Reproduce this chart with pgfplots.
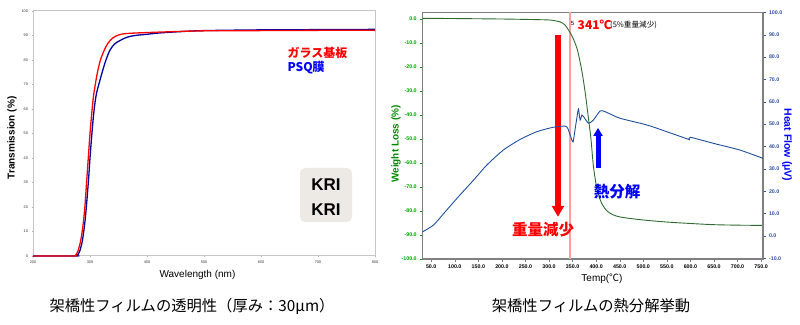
\documentclass[border=0pt]{standalone}
\usepackage{fontspec}
\setmainfont{Liberation Sans}
\newfontfamily\jp{Noto Sans CJK JP}
\usepackage{pgfplots}
\pgfplotsset{compat=1.18}
\usetikzlibrary{arrows.meta}
\definecolor{tgreen}{HTML}{2F6B2F}
\definecolor{tblue}{HTML}{1F4E9A}
\definecolor{lgreen}{HTML}{00A000}
\definecolor{lblue}{HTML}{2F4FA0}
\definecolor{pinkline}{HTML}{FFA0A0}
\definecolor{navy}{HTML}{00009C}
\definecolor{boxgrey}{HTML}{EDEAE6}
\begin{document}
\begin{tikzpicture}[x=1pt,y=1pt]
\path[use as bounding box] (0,0) rectangle (800,324);
% ---------------- left chart ----------------
\begin{axis}[at={(33pt,68pt)}, anchor=south west, scale only axis,
  width=342pt, height=245pt, xmin=200, xmax=800, ymin=0, ymax=100,
  xtick={200,300,...,800}, ytick={0,10,...,100}, clip=false,
  tick pos=left, tick align=outside, major tick length=1.5pt,
  tick style={draw=gray!60},
  axis line style={draw=gray!45, line width=1pt},
  tick label style={font=\fontsize{3.8}{4.5}\selectfont, text=black!80},
  /pgf/number format/assume math mode=true,
  /pgf/number format/1000 sep={}]
\addplot[navy, line width=1.3pt, smooth] coordinates {
(200,0) (274,0) (278,0.3) (282,2) (286,5.5) (289,10) (292,16) (295,24) (298,33) (300,40)
(303,49) (306,57) (309,63) (312,67) (316,70.5) (322,75.5) (328,80) (335,84) (343,86.5)
(353,88) (365,89.3) (379,90) (400,90.5) (420,91) (460,91.6) (500,92) (600,92.3) (700,92.4) (800,92.5)};
\addplot[red, line width=1.3pt, smooth] coordinates {
(200,0) (270,0) (274,0.3) (278,1.5) (282,4.5) (285,8) (288,13) (291,20) (294,30) (297,40)
(300,50) (303,58) (306,65) (310,71) (314,76) (319,80.5) (325,84) (332,87) (340,89)
(350,90.2) (364,90.8) (400,91.2) (450,91.6) (500,91.9) (600,92.0) (700,92.1) (800,92.1)};
\end{axis}
\node[anchor=west, text=red, font=\jp\fontsize{12}{14}\selectfont\bfseries] at (284,271) {ガラス基板};
\node[anchor=west, text=blue, font=\jp\fontsize{12}{14}\selectfont\bfseries] at (284,256) {PSQ膜};
\fill[boxgrey, rounded corners=5pt] (300,102) rectangle (352,156);
\node[font=\fontsize{17}{19}\selectfont\bfseries] at (326,139) {KRI};
\node[font=\fontsize{17}{19}\selectfont\bfseries] at (326,114) {KRI};
\node[rotate=90, font=\fontsize{10}{12}\selectfont\bfseries] at (12,186) {Transmission (\%)};
\node[font=\fontsize{10}{12}\selectfont] at (197.5,49) {Wavelength (nm)};
\node[font=\jp\fontsize{15.3}{17}\selectfont] at (192,18) {架橋性フィルムの透明性（厚み：30μm）};
% ---------------- right chart ----------------
\begin{axis}[at={(422.7pt,65pt)}, anchor=south west, scale only axis,
  width=340.3pt, height=246.7pt, xmin=32, xmax=754, ymin=-100, ymax=2.8,
  xtick={50,100,...,750}, ytick={-100,-90,...,0}, clip=false,
  tick pos=left, tick align=outside, major tick length=2.5pt,
  axis line style={draw=gray, line width=1.2pt},
  x tick style={draw=gray}, y tick style={draw=lgreen},
  tick label style={font=\fontsize{5.3}{6}\selectfont\bfseries},
  yticklabel style={text=lgreen},
  /pgf/number format/assume math mode=true,
  /pgf/number format/.cd, fixed, fixed zerofill, precision=1, 1000 sep={}]
\draw[pinkline, line width=1.5pt] (axis cs:344,-100) -- (axis cs:344,2.8);
\addplot[tgreen, line width=0.9pt, smooth] coordinates {
(32,0.3) (100,0.2) (200,0) (260,-0.2) (300,-0.4) (315,-0.8) (324,-1.2) (334,-2.5) (341,-4.5)
(346,-6) (352,-8.5) (359,-12) (365,-17) (370,-22) (377,-31) (384,-42) (389,-50) (394,-61)
(400,-69) (405,-73) (411,-76.5) (422,-79.8) (435,-81.5) (451,-82.5) (480,-83.3) (508,-83.9)
(550,-84.6) (600,-85.2) (650,-85.7) (700,-85.9) (754,-86)};
\draw[red, line width=6pt, -{Triangle[width=12pt,length=11pt]}] (axis cs:319,-6.7) -- (axis cs:319,-82.4);
\draw[blue, line width=5pt, -{Triangle[width=9pt,length=8pt]}] (axis cs:404,-62) -- (axis cs:404,-45.4);
\end{axis}
\begin{axis}[at={(422.7pt,65pt)}, anchor=south west, scale only axis,
  width=340.3pt, height=246.7pt, xmin=32, xmax=754, ymin=-10.3, ymax=100,
  ytick={-10,0,...,100}, clip=false,
  axis y line*=right, axis x line=none, tick align=outside, major tick length=2.5pt,
  axis line style={draw=gray, line width=1.2pt},
  y tick style={draw=lblue},
  tick label style={font=\fontsize{5.3}{6}\selectfont\bfseries},
  yticklabel style={text=lblue},
  /pgf/number format/assume math mode=true,
  /pgf/number format/.cd, fixed, fixed zerofill, precision=1, 1000 sep={}]
\addplot[tblue, line width=0.9pt, smooth, tension=0.4] coordinates {
(32,1.9) (55,4.9) (83,11.6) (111,18.3) (140,25) (168,31.7) (203,38.4) (239,43.2) (274,46.6)
(309,48.6) (334,49.1) (340,48) (346,44.4) (351,42) (355.5,48) (360,54) (362.5,56.8) (366,51.8)
(370,54.1) (376,52.5) (384,50.4) (394,51.8) (408,55.8) (416,55.8) (430,54.5) (451,52.6)
(508,49.6) (550,46.6) (596,43.2) (598,43) (600,44.1) (649,41.4) (705,38.4) (754,34.7)};
\end{axis}
\node[font=\fontsize{6}{7}\selectfont] at (572.5,301) {5};
\node[anchor=west, inner sep=0pt, text=red, font=\jp\fontsize{12}{14}\selectfont\bfseries] at (577.5,299) {341℃};
\node[anchor=west, inner sep=0pt, font=\jp\fontsize{7.6}{8}\selectfont] at (610,299) {(5\%重量減少)};
\node[text=red, font=\jp\fontsize{15.5}{17}\selectfont\bfseries] at (543,94) {重量減少};
\node[text=blue, font=\jp\fontsize{15.5}{17}\selectfont\bfseries] at (617,132) {熱分解};
\node[rotate=90, text=lgreen!85!black, font=\fontsize{10}{12}\selectfont\bfseries] at (396,180) {Weight Loss (\%)};
\node[rotate=-90, text=blue, font=\fontsize{10.5}{12}\selectfont\bfseries] at (787,179) {Heat Flow (μV)};
\node[font=\fontsize{10}{12}\selectfont] at (602,45) {Temp({\jp ℃})};
\node[font=\jp\fontsize{15.3}{17}\selectfont] at (591,18) {架橋性フィルムの熱分解挙動};
\end{tikzpicture}
\end{document}
